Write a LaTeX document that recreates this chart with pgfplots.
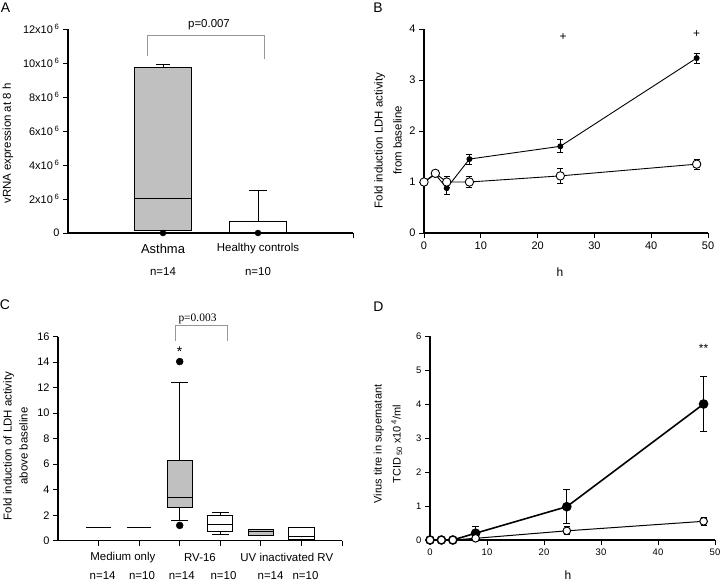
\documentclass[border=0pt]{standalone}
\usepackage{pgfplots}
\pgfplotsset{compat=1.18}
\usepgfplotslibrary{statistics}
\usepackage{fontspec}
\setmainfont{Liberation Sans}
\newfontfamily\seriffont{Liberation Serif}
\definecolor{boxgray}{RGB}{192,192,192}
\definecolor{brgray}{RGB}{150,150,150}

\pgfplotsset{
  panel/.style={
    scale only axis, width=285bp, height=204bp,
    anchor=south west,
    axis lines=left, axis line style={-, line width=1.2bp},
    tick align=outside, major tick length=5bp,
    tick style={black, line width=0.8bp},
    clip=false,
    /pgf/number format/assume math mode=true,
    tick label style={font=\fontsize{11}{13}\selectfont},
    boxplot/draw direction=y,
  }
}

\begin{document}
\begin{tikzpicture}
\path[use as bounding box] (0,0) rectangle (720bp,-582bp);

% ---------------- Panel A ----------------
\begin{axis}[panel, at={(68bp,-233bp)},
  xmin=0, xmax=3, ymin=0, ymax=12,
  xtick={3}, xticklabels={},
  ytick={0,2,4,6,8,10,12},
  yticklabels={0,{2x10\,\textsuperscript{6}},{4x10\,\textsuperscript{6}},{6x10\,\textsuperscript{6}},{8x10\,\textsuperscript{6}},{10x10\,\textsuperscript{6}},{12x10\,\textsuperscript{6}}},
]
\addplot[draw=black, fill=boxgray, line width=1bp, boxplot/draw direction=y,
  boxplot prepared={draw position=1, lower whisker=0.15, lower quartile=0.15,
  median=2.05, upper quartile=9.75, upper whisker=9.9, box extend=0.6, whisker extend=0.14}]
  coordinates {};
\addplot[draw=black, fill=white, line width=1bp, boxplot/draw direction=y,
  boxplot prepared={draw position=2, lower whisker=0.0, lower quartile=0.0,
  median=0.03, upper quartile=0.65, upper whisker=2.5, box extend=0.6, whisker extend=0.19}]
  coordinates {};
\addplot[only marks, mark=*, mark size=3bp, black] coordinates {(1,0) (2,0)};
\draw[brgray, line width=0.8bp] (axis cs:0.84,10.4) |- (axis cs:2.07,11.6) -- (axis cs:2.07,10.25);
\node[font=\fontsize{13}{15}\selectfont] at (axis cs:1,0) [yshift=-16bp] {Asthma};
\node[font=\fontsize{11.5}{13}\selectfont] at (axis cs:2,0) [yshift=-16bp] {Healthy controls};
\node[font=\fontsize{11.5}{13}\selectfont] at (axis cs:1,0) [yshift=-39bp] {n=14};
\node[font=\fontsize{11.5}{13}\selectfont] at (axis cs:2,0) [yshift=-39bp] {n=10};
\end{axis}

% ---------------- Panel B ----------------
\begin{axis}[panel, at={(424bp,-233bp)}, width=284bp,
  xmin=0, xmax=50, ymin=0, ymax=4,
  xtick={0,10,...,50}, ytick={0,1,2,3,4},
]
\addplot[black, line width=0.9bp, mark=*, mark size=2.5bp,
  error bars/.cd, y dir=both, y explicit, error mark=|,
  error bar style={line width=0.9bp}, error mark options={mark size=3bp, line width=0.9bp}]
  coordinates {(0,1) +- (0,0) (2,1.15) +- (0,0) (4,0.88) +- (0,0.12) (8,1.45) +- (0,0.1) (24,1.7) +- (0,0.13) (48,3.43) +- (0,0.1)};
\addplot[black, line width=0.9bp, mark=*, mark size=4.2bp, mark options={fill=white},
  error bars/.cd, y dir=both, y explicit, error mark=|,
  error bar style={line width=0.9bp}, error mark options={mark size=3bp, line width=0.9bp}]
  coordinates {(0,1) +- (0,0) (2,1.17) +- (0,0) (4,1.0) +- (0,0.1) (8,1.0) +- (0,0.1) (24,1.12) +- (0,0.14) (48,1.35) +- (0,0.1)};
\node[font=\fontsize{12}{14}\selectfont] at (axis cs:24.5,3.85) {+};
\node[font=\fontsize{12}{14}\selectfont] at (axis cs:48,3.9) {+};
\end{axis}

% ---------------- Panel C ----------------
\begin{axis}[panel, at={(58bp,-540.7bp)}, width=284bp,
  xmin=0, xmax=7, ymin=0, ymax=16,
  xtick={1,...,7}, xticklabels={},
  ytick={0,2,...,16},
]
\addplot[black, line width=1bp] coordinates {(0.7,1) (1.3,1)};
\addplot[black, line width=1bp] coordinates {(1.7,1) (2.3,1)};
\addplot[draw=black, fill=boxgray, line width=1bp, boxplot/draw direction=y,
  boxplot prepared={draw position=3, lower whisker=1.55, lower quartile=2.6,
  median=3.4, upper quartile=6.3, upper whisker=12.4, box extend=0.62, whisker extend=0.42}]
  coordinates {};
\addplot[draw=black, fill=white, line width=1bp, boxplot/draw direction=y,
  boxplot prepared={draw position=4, lower whisker=0.5, lower quartile=0.7,
  median=1.3, upper quartile=2.0, upper whisker=2.2, box extend=0.62, whisker extend=0.42}]
  coordinates {};
\addplot[draw=black, fill=boxgray, line width=1bp, boxplot/draw direction=y,
  boxplot prepared={draw position=5, lower whisker=0.4, lower quartile=0.4,
  median=0.75, upper quartile=0.9, upper whisker=0.9, box extend=0.62, whisker extend=0.3}]
  coordinates {};
\addplot[draw=black, fill=white, line width=1bp, boxplot/draw direction=y,
  boxplot prepared={draw position=6, lower whisker=0.1, lower quartile=0.1,
  median=0.35, upper quartile=1.02, upper whisker=1.02, box extend=0.62, whisker extend=0.3}]
  coordinates {};
\addplot[only marks, mark=*, mark size=3.5bp, black] coordinates {(3,14.05) (3,1.2)};
\node[font=\fontsize{14}{16}\selectfont] at (axis cs:3,14.85) {*};
\draw[brgray, line width=0.8bp] (axis cs:2.9,15.7) |- (axis cs:4.18,16.9) -- (axis cs:4.18,15.7);
\node[font=\fontsize{11.5}{13}\selectfont] at (axis cs:1.6,0) [yshift=-16.5bp] {Medium only};
\node[font=\fontsize{11.5}{13}\selectfont] at (axis cs:3.5,0) [yshift=-16.5bp] {RV-16};
\node[font=\fontsize{11.5}{13}\selectfont] at (axis cs:5.64,0) [yshift=-16.5bp] {UV inactivated RV};
\node[font=\fontsize{11.5}{13}\selectfont] at (axis cs:1.1,0) [yshift=-34.5bp] {n=14};
\node[font=\fontsize{11.5}{13}\selectfont] at (axis cs:2.07,0) [yshift=-34.5bp] {n=10};
\node[font=\fontsize{11.5}{13}\selectfont] at (axis cs:3.05,0) [yshift=-34.5bp] {n=14};
\node[font=\fontsize{11.5}{13}\selectfont] at (axis cs:4.08,0) [yshift=-34.5bp] {n=10};
\node[font=\fontsize{11.5}{13}\selectfont] at (axis cs:5.24,0) [yshift=-34.5bp] {n=14};
\node[font=\fontsize{11.5}{13}\selectfont] at (axis cs:6.1,0) [yshift=-34.5bp] {n=10};
\end{axis}

% ---------------- Panel D ----------------
\begin{axis}[panel, at={(430bp,-540bp)},
  xmin=0, xmax=50, ymin=0, ymax=6,
  xtick={0,10,...,50}, ytick={0,1,...,6},
  tick label style={font=\fontsize{9.5}{11}\selectfont},
]
\addplot[black, line width=1.6bp, mark=*, mark size=4bp,
  error bars/.cd, y dir=both, y explicit, error mark=|,
  error bar style={line width=1bp}, error mark options={mark size=3.5bp, line width=1bp}]
  coordinates {(0,0) +- (0,0) (2,0) +- (0,0) (4,0) +- (0,0) (8,0.2) +- (0,0.2) (24,0.98) +- (0,0.5) (48,4.0) +- (0,0.81)};
\addplot[black, line width=1bp, mark=*, mark size=3.8bp, mark options={fill=white},
  error bars/.cd, y dir=both, y explicit, error mark=|,
  error bar style={line width=1bp}, error mark options={mark size=3bp, line width=1bp}]
  coordinates {(0,0) +- (0,0) (2,0) +- (0,0) (4,0) +- (0,0) (8,0.05) +- (0,0.03) (24,0.27) +- (0,0.12) (48,0.55) +- (0,0.12)};
\node[font=\fontsize{12}{14}\selectfont] at (axis cs:48,5.65) {**};
\end{axis}

% ---------------- free text ----------------
\node[font=\fontsize{14}{16}\selectfont] at (5.5bp,-8bp) {A};
\node[font=\fontsize{14}{16}\selectfont] at (378bp,-8bp) {B};
\node[font=\fontsize{14}{16}\selectfont] at (5bp,-305bp) {C};
\node[font=\fontsize{14}{16}\selectfont] at (378.5bp,-307bp) {D};

\node[font=\fontsize{11.5}{13}\selectfont] at (209bp,-25bp) {p=0.007};
\node[font=\fontsize{11.5}{13}\selectfont\seriffont] at (197.5bp,-319bp) {p=0.003};

\node[rotate=90, font=\fontsize{11.5}{13}\selectfont] at (8bp,-143.5bp) {vRNA expression at 8 h};
\node[rotate=90, align=center, font=\fontsize{11.5}{19}\selectfont] at (388bp,-140.5bp) {Fold induction LDH activity\\from baseline};
\node[rotate=90, align=center, font=\fontsize{11.5}{16}\selectfont] at (15.5bp,-446bp) {Fold induction of LDH activity\\above baseline};
\node[rotate=90, align=center, font=\fontsize{11}{19}\selectfont] at (388bp,-444bp) {Virus titre in supernatant\\TCID\,\textsubscript{50} x10\,\textsuperscript{4}/ml};

\node[font=\fontsize{12}{14}\selectfont] at (560bp,-272bp) {h};
\node[font=\fontsize{12}{14}\selectfont] at (568bp,-575bp) {h};
\end{tikzpicture}
\end{document}
